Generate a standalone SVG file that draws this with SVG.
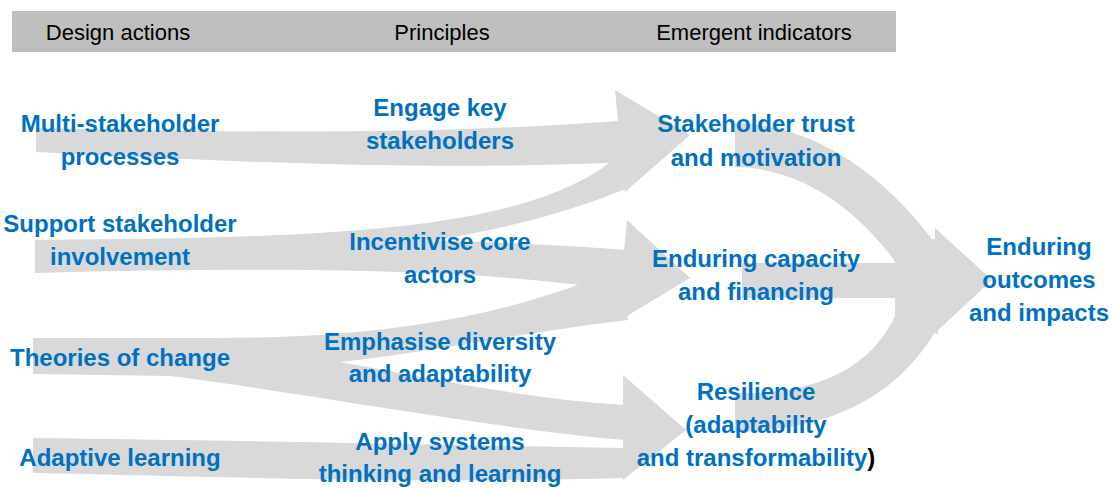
<svg xmlns="http://www.w3.org/2000/svg" width="1113" height="488" viewBox="0 0 1113 488">
<style>
.band{fill:#d9d9d9;stroke:none}
.hdr{font-family:"Liberation Sans",Arial,sans-serif;font-size:22px;fill:#000;text-anchor:middle}
.lbl{font-family:"Liberation Sans",Arial,sans-serif;font-size:24px;font-weight:bold;fill:#0070C0;text-anchor:middle}
</style>
<rect width="1113" height="488" fill="#ffffff"/>
<g id="header">
<rect x="12" y="11" width="884" height="41" fill="#bfbfbf"/>
<text class="hdr" x="118" y="40">Design actions</text>
<text class="hdr" x="442" y="40">Principles</text>
<text class="hdr" x="754" y="40">Emergent indicators</text>
</g>
<g id="connectors">
<!-- Multi-stakeholder -> Stakeholder trust -->
<path class="band" d="M36,128 C200,131 420,137 630,120 L630,162 C420,172 200,160 36,152 Z"/>
<!-- Support stakeholder -> Stakeholder trust (up) -->
<path class="band" d="M35,240 C350,238 540,230 625,150 L628,188 C560,215 500,232 380,248 L35,252 Z"/>
<!-- Support stakeholder -> Enduring capacity -->
<path class="band" d="M35,240 C250,238 450,236 628,250 L628,292 C500,270 300,266 35,273 Z"/>
<!-- Theories of change -> Enduring capacity / Resilience -->
<path class="band" d="M33,338 L200,338 C360,339 500,322 624,266 L628,320 C540,330 430,352 340,362 C430,378 530,400 626,405 L626,440 C500,430 300,392 170,376 L33,374 Z"/>
<!-- Adaptive learning -> Resilience -->
<path class="band" d="M33,438 C200,440 400,444 626,448 L626,478 C400,484 200,476 33,473 Z"/>
<!-- arrowheads into emergent indicators -->
<polygon class="band" points="615,90 690,135 625,192"/>
<polygon class="band" points="627,220 690,278 617,322"/>
<polygon class="band" points="623,375 686,430 623,480"/>
<!-- emergent indicators -> enduring outcomes -->
<path class="band" d="M735,123 C820,125 890,180 940,250 L905,275 C850,195 790,168 735,167 Z"/>
<rect class="band" x="742" y="263" width="198" height="35"/>
<path class="band" d="M735,393 C830,395 885,360 905,290 L940,300 L935,332 C900,390 840,430 735,432 Z"/>
<polygon class="band" points="895,250 938,238 938,334 895,322"/>
<polygon class="band" points="935,228 992,280 935,333"/>
</g>
<g id="multi-stakeholder">
<text class="lbl" x="120" y="132">Multi-stakeholder</text>
<text class="lbl" x="120" y="165">processes</text>
</g>
<g id="support-stakeholder">
<text class="lbl" x="120" y="232">Support stakeholder</text>
<text class="lbl" x="120" y="265">involvement</text>
</g>
<g id="theories-of-change">
<text class="lbl" x="120" y="366">Theories of change</text>
</g>
<g id="adaptive-learning">
<text class="lbl" x="120" y="466">Adaptive learning</text>
</g>
<g id="engage-key">
<text class="lbl" x="440" y="116">Engage key</text>
<text class="lbl" x="440" y="149">stakeholders</text>
</g>
<g id="incentivise">
<text class="lbl" x="440" y="250">Incentivise core</text>
<text class="lbl" x="440" y="283">actors</text>
</g>
<g id="emphasise">
<text class="lbl" x="440" y="350">Emphasise diversity</text>
<text class="lbl" x="440" y="382">and adaptability</text>
</g>
<g id="apply-systems">
<text class="lbl" x="440" y="450">Apply systems</text>
<text class="lbl" x="440" y="482">thinking and learning</text>
</g>
<g id="stakeholder-trust">
<text class="lbl" x="756" y="132">Stakeholder trust</text>
<text class="lbl" x="756" y="166">and motivation</text>
</g>
<g id="enduring-capacity">
<text class="lbl" x="756" y="267">Enduring capacity</text>
<text class="lbl" x="756" y="300">and financing</text>
</g>
<g id="resilience">
<text class="lbl" x="756" y="400">Resilience</text>
<text class="lbl" x="756" y="433">(adaptability</text>
<text class="lbl" x="756" y="466">and transformability<tspan fill="#000000">)</tspan></text>
</g>
<g id="enduring-outcomes">
<text class="lbl" x="1039" y="255">Enduring</text>
<text class="lbl" x="1039" y="288">outcomes</text>
<text class="lbl" x="1039" y="321">and impacts</text>
</g>
</svg>
